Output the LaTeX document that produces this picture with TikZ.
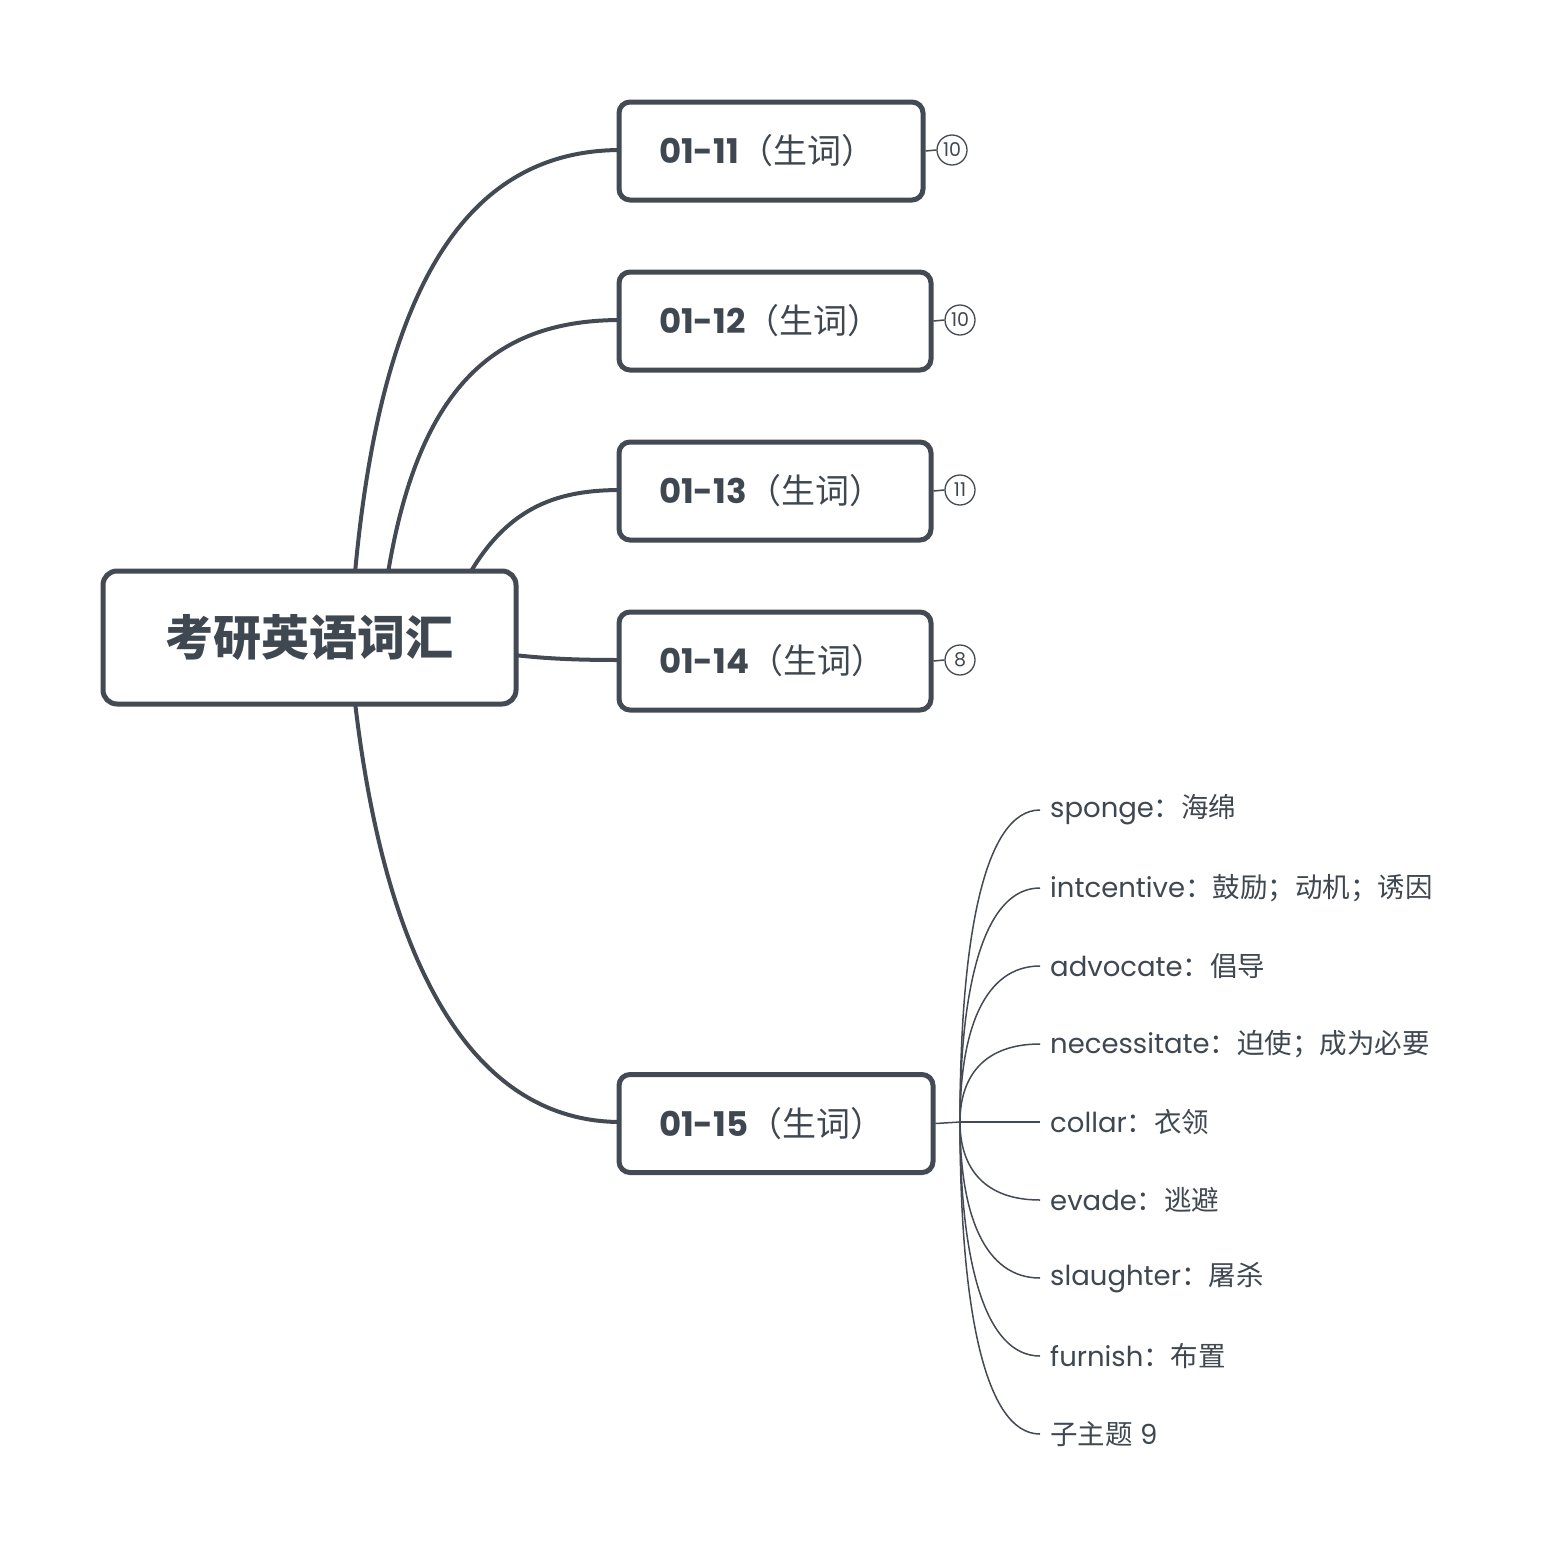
\documentclass[tikz,border=0pt]{standalone}
\usepackage{fontspec}
\setmainfont{Poppins}
\newfontfamily\cjk{Noto Sans CJK SC}
\definecolor{ink}{HTML}{434A54}
\definecolor{txt}{HTML}{3F4751}
\tikzset{
  centralbox/.style={draw=ink, line width=5pt, rounded corners=14pt, fill=white,
    minimum width=413pt, minimum height=133pt, inner sep=0pt, text=txt,
    font=\fontsize{48}{58}\selectfont\cjk\bfseries},
  topicbox/.style={draw=ink, line width=5pt, rounded corners=11pt, fill=white,
    minimum height=98pt, inner xsep=40pt, inner ysep=0pt, text=txt,
    font=\fontsize{34}{41}\selectfont},
  badge/.style={circle, draw=ink, line width=1.3pt, minimum size=30pt, inner sep=0pt,
    text=txt, font=\fontsize{19}{22}\selectfont},
  leaf/.style={anchor=west, inner xsep=10pt, inner ysep=0pt, text=txt,
    font=\fontsize{27.5}{33}\selectfont},
  thick link/.style={draw=ink, line width=4pt},
  thin link/.style={draw=ink, line width=1.5pt},
}
\newcommand{\topictext}[2]{\makebox[#1][l]{\textbf{#2}{\cjk （生词）}}}
\begin{document}
\begin{tikzpicture}[x=1pt,y=-1pt]
\useasboundingbox (0,0) rectangle (1552,1564);
% connectors first (under boxes)
\coordinate (s1) at (355,573);
\coordinate (s2) at (388,573);
\coordinate (s3) at (470,573);
\coordinate (s4) at (514,655);
\coordinate (s5) at (355,702);
\coordinate (e1) at (621,150);
\coordinate (e2) at (621,320);
\coordinate (e3) at (621,490);
\coordinate (e4) at (621,660);
\coordinate (e5) at (621,1122);
\draw[thick link] (s1) .. controls (382,280) and (470,150) .. (e1);
\draw[thick link] (s2) .. controls (420,380) and (500,320) .. (e2);
\draw[thick link] (s3) .. controls (510,505) and (560,490) .. (e3);
\draw[thick link] (s4) .. controls (550,659) and (580,660) .. (e4);
\draw[thick link] (s5) .. controls (385,960) and (470,1122) .. (e5);

\node[centralbox] (c) at (309.5,637.5) {考研英语词汇};

\node[topicbox] (t1) at (771,151) {\topictext{224pt}{01-11}};
\node[topicbox] (t2) at (775,321) {\topictext{232pt}{01-12}};
\node[topicbox] (t3) at (775,491) {\topictext{232pt}{01-13}};
\node[topicbox] (t4) at (775,661) {\topictext{232pt}{01-14}};
\node[topicbox] (t5) at (776,1123.5) {\topictext{234pt}{01-15}};

\node[badge] (b1) at (952,150) {10};
\node[badge] (b2) at (960,320) {10};
\node[badge] (b3) at (960,490) {11};
\node[badge] (b4) at (960,660) {8};
\draw[thin link] (t1.east) -- (b1.west);
\draw[thin link] (t2.east) -- (b2.west);
\draw[thin link] (t3.east) -- (b3.west);
\draw[thin link] (t4.east) -- (b4.west);

\coordinate (hub) at (960,1122);
\draw[thin link] (t5.east) -- (hub);

\foreach \i/\y/\t in {
  1/810/{sponge{\cjk ：海绵}},
  2/888/{intcentive{\cjk ：鼓励；动机；诱因}},
  3/966/{advocate{\cjk ：倡导}},
  4/1044/{necessitate{\cjk ：迫使；成为必要}},
  5/1122/{collar{\cjk ：衣领}},
  6/1200/{evade{\cjk ：逃避}},
  7/1278/{slaughter{\cjk ：屠杀}},
  8/1356/{furnish{\cjk ：布置}},
  9/1434/{{\cjk 子主题}\ 9}}{
  \node[leaf] (l\i) at (1040,\y) {\t};
  \pgfmathsetmacro\cy{1122+0.6*(\y-1122)}
  \draw[thin link] (hub) .. controls (960,\cy) and (985,\y) .. (l\i.west);
}
\end{tikzpicture}
\end{document}
